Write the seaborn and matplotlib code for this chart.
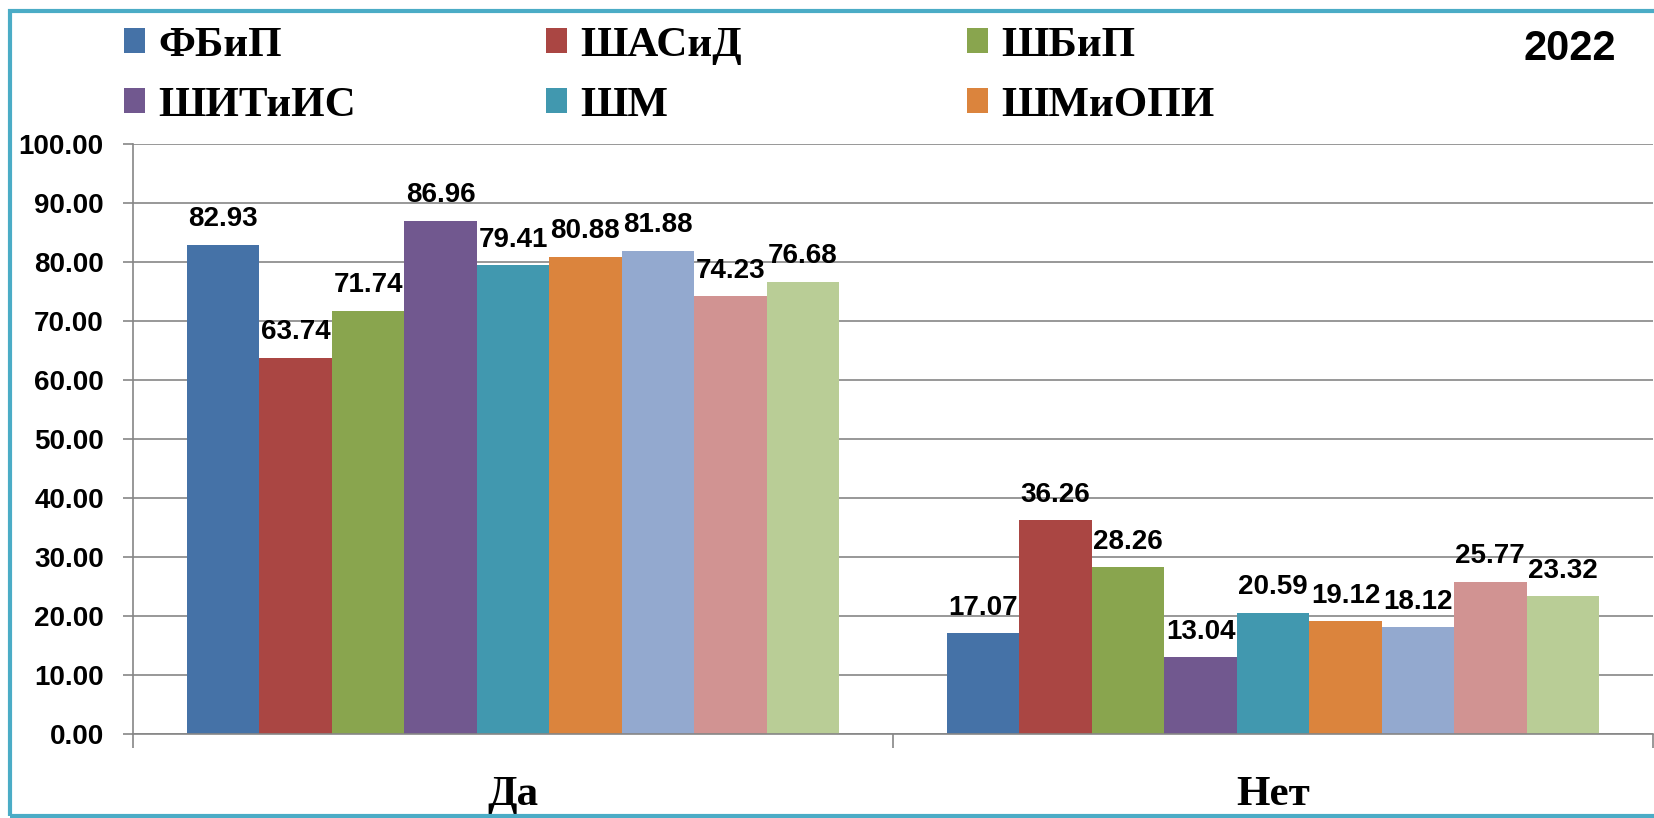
import pandas as pd
import seaborn as sns
import matplotlib.pyplot as plt
from matplotlib.patches import Patch, Rectangle

# данные
answers = ['Да', 'Нет']
schools = ['ФБиП', 'ШАСиД', 'ШБиП', 'ШИТиИС', 'ШМ', 'ШМиОПИ', 'Ряд 7', 'Ряд 8', 'Ряд 9']
yes_vals = [82.93, 63.74, 71.74, 86.96, 79.41, 80.88, 81.88, 74.23, 76.68]
no_vals = [17.07, 36.26, 28.26, 13.04, 20.59, 19.12, 18.12, 25.77, 23.32]
year = '2022'

colors = ['#4572A7', '#AA4643', '#89A54E', '#71588F', '#4198AF',
          '#DB843D', '#93A9CF', '#D19392', '#B9CD96']

df = pd.DataFrame({
    'Ответ': [answers[0]] * len(schools) + [answers[1]] * len(schools),
    'Школа': schools * 2,
    'Процент': yes_vals + no_vals,
})

sns.set_style("white")
plt.rcParams['font.family'] = ['Liberation Sans', 'DejaVu Sans']
plt.rcParams['text.color'] = 'black'

W, H = 1654, 818
fig = plt.figure(figsize=(W / 100, H / 100), dpi=100)
ax = fig.add_axes([133 / W, 1 - 734 / H, (1653 - 133) / W, (734 - 144) / H])

sns.barplot(data=df, x='Ответ', y='Процент', hue='Школа', order=answers,
            hue_order=schools, palette=colors, saturation=1, width=0.858,
            legend=False, ax=ax, linewidth=0)

for cont in ax.containers:
    ax.bar_label(cont, fmt='%.2f', padding=9, fontsize=20,
                 fontweight='bold', color='black')

ax.set_ylim(0, 100)
ax.set_xlim(-0.5, 1.5)
ax.set_yticks(range(0, 101, 10))
ax.set_yticklabels([f'{v:.2f}' for v in range(0, 101, 10)],
                   fontsize=20, fontweight='bold')
ax.yaxis.grid(True, color='#868686', linewidth=1.2)
ax.set_axisbelow(True)
ax.tick_params(axis='y', length=7, width=1.2, color='#868686', pad=14,
               left=True, labelcolor='black')
ax.set_xticks([-0.5, 0.5, 1.5], minor=True)
ax.tick_params(axis='x', which='minor', length=10, width=1.2, color='#868686', bottom=True)
ax.tick_params(axis='x', which='major', length=0, pad=30, labelcolor='black')
for lab in ax.get_xticklabels():
    lab.set_family('Liberation Serif')
    lab.set_fontsize(31)
    lab.set_fontweight('bold')
ax.set_xlabel('')
ax.set_ylabel('')
for s in ['top', 'right']:
    ax.spines[s].set_visible(False)
for s in ['left', 'bottom']:
    ax.spines[s].set_color('#868686')
    ax.spines[s].set_linewidth(1.2)

# легенда: три колонки по две строки
cols_x = [124, 546, 967]
for j, x in enumerate(cols_x):
    idx = [j, j + 3]
    handles = [Patch(facecolor=colors[i], edgecolor='none') for i in idx]
    fig.legend(handles, [schools[i] for i in idx], loc='upper left',
               bbox_to_anchor=(x / W, 1 - 27 / H), frameon=False,
               borderpad=0, borderaxespad=0, handlelength=0.49,
               handleheight=0.51, handletextpad=0.3, labelspacing=0.5,
               labelcolor='black',
               prop={'family': 'Liberation Serif', 'weight': 'bold', 'size': 31})

fig.text(1570 / W, 1 - 49 / H, year, ha='center', va='center',
         fontsize=30, fontweight='bold', color='black')

# рамка
fig.patches.append(Rectangle((9.5 / W, 2.5 / H), 1.1, (816 - 11) / H,
                             transform=fig.transFigure, fill=False,
                             edgecolor='#4BACC6', linewidth=3, zorder=0))

fig.savefig('out.png', dpi=100)
